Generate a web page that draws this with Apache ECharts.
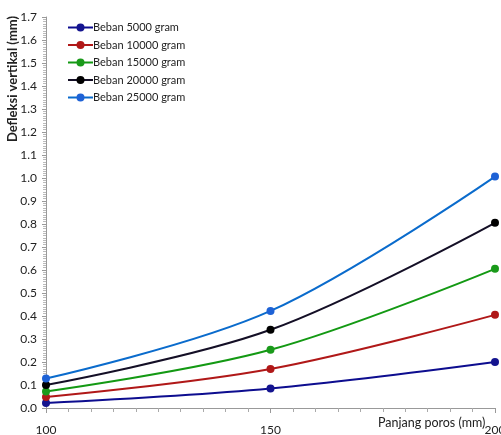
<!DOCTYPE html>
<html>
<head>
<meta charset="utf-8">
<script src="https://cdn.jsdelivr.net/npm/echarts@6/dist/echarts.min.js"></script>
<style>
  html, body { margin: 0; padding: 0; background: #fff; }
  #chart { width: 501px; height: 435px; }
</style>
</head>
<body>
<div id="chart"></div>
<script>
const FONT = 'Lato, "Liberation Sans", Arial, sans-serif'

// panjang poros (mm)
const lengths = [100, 150, 200]

const seriesNames = ['Beban 5000 gram', 'Beban 10000 gram', 'Beban 15000 gram', 'Beban 20000 gram', 'Beban 25000 gram']
const beban5000 = [0.022, 0.085, 0.2]
const beban10000 = [0.048, 0.17, 0.405]
const beban15000 = [0.072, 0.253, 0.605]
const beban20000 = [0.1, 0.34, 0.805]
const beban25000 = [0.128, 0.422, 1.006]
const seriesValues = [beban5000, beban10000, beban15000, beban20000, beban25000]

const lineColors = ['#0d0d8f', '#b01818', '#139913', '#140f26', '#0a6bcc']
const dotColors = ['#14148f', '#b01818', '#1a9a1a', '#000000', '#1e62d6']

const chart = echarts.init(document.getElementById('chart'))

const series = seriesNames.map((name, i) => ({
  name,
  type: 'line',
  smooth: 0.35,
  data: lengths.map((x, j) => [x, seriesValues[i][j]]),
  symbol: 'circle',
  symbolSize: 8,
  lineStyle: { color: lineColors[i], width: 2 },
  itemStyle: { color: dotColors[i] },
  z: 2 + i
}))

chart.setOption({
  animation: false,
  grid: { left: 46, right: 6, top: 17, bottom: 27, outerBoundsMode: 'none', containLabel: false },
  legend: {
    orient: 'vertical',
    left: 62,
    top: 17,
    itemGap: 6.5,
    itemWidth: 25,
    itemHeight: 10,
    textStyle: { fontFamily: FONT, fontSize: 11, color: '#222', padding: [0, 0, 0, -5] },
    data: seriesNames
  },
  xAxis: {
    type: 'value',
    min: 100,
    max: 200,
    interval: 50,
    axisLine: { show: true, lineStyle: { color: '#999', width: 1 } },
    axisTick: { show: true, length: 5, lineStyle: { color: '#999' } },
    minorTick: { show: true, splitNumber: 10, length: 4, lineStyle: { color: '#aaa' } },
    splitLine: { show: false },
    axisLabel: { fontFamily: FONT, fontSize: 12, color: '#222', margin: 16 }
  },
  yAxis: {
    type: 'value',
    min: 0,
    max: 1.7,
    interval: 0.1,
    axisLine: { show: true, lineStyle: { color: '#999', width: 1 } },
    axisTick: { show: true, length: 4, lineStyle: { color: '#999' } },
    minorTick: { show: true, splitNumber: 10, length: 3, lineStyle: { color: '#bbb' } },
    splitLine: { show: false },
    axisLabel: {
      fontFamily: FONT, fontSize: 12, color: '#222', margin: 9,
      formatter: (v) => v.toFixed(1)
    }
  },
  graphic: [
    {
      type: 'text',
      left: 6,
      top: 16,
      rotation: Math.PI / 2,
      style: {
        text: 'Defleksi vertikal (mm)',
        fontFamily: FONT,
        fontSize: 13,
        fontWeight: 'bold',
        fill: '#222'
      }
    },
    {
      type: 'text',
      left: 378,
      top: 416,
      style: {
        text: 'Panjang poros (mm)',
        fontFamily: FONT,
        fontSize: 12.5,
        fill: '#222'
      }
    }
  ],
  series
})
</script>
</body>
</html>
